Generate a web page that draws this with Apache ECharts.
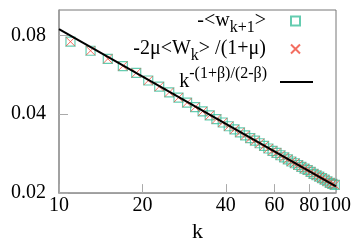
<!DOCTYPE html>
<html>
<head>
<meta charset="utf-8">
<script src="https://cdn.jsdelivr.net/npm/echarts@6/dist/echarts.min.js"></script>
<style>html,body{margin:0;padding:0;background:#fff}#c{width:354px;height:248px}</style>
</head>
<body>
<div id="c"></div>
<script>
// k values (odd k from 11 to 99)
var kValues = [11,13,15,17,19,21,23,25,27,29,31,33,35,37,39,41,43,45,47,49,51,53,55,57,59,61,63,65,67,69,71,73,75,77,79,81,83,85,87,89,91,93,95,97,99];
// -<w_{k+1}>
var wSeries = [0.0757,0.0699,0.0651,0.0611,0.0575,0.0538,0.0510,0.0485,0.0463,0.0443,0.0426,0.0410,0.0396,0.0383,0.0372,0.0360,0.0350,0.0341,0.0332,0.0324,0.0317,0.0310,0.0303,0.0296,0.0290,0.0285,0.0279,0.0274,0.0269,0.0264,0.0260,0.0256,0.0252,0.0248,0.0245,0.0241,0.0237,0.0234,0.0231,0.0228,0.0225,0.0222,0.0219,0.0217,0.0215];
// -2mu<W_k>/(1+mu)
var wkSeries = [0.0757,0.0699,0.0651,0.0611,0.0575,0.0538,0.0510,0.0485,0.0463,0.0443,0.0426,0.0410,0.0396,0.0383,0.0372,0.0360,0.0350,0.0341,0.0332,0.0324,0.0317,0.0310,0.0303,0.0296,0.0290,0.0285,0.0279,0.0274,0.0269,0.0264,0.0260,0.0256,0.0252,0.0248,0.0245,0.0241,0.0237,0.0234,0.0231,0.0228,0.0225,0.0222,0.0219,0.0217,0.0215];
// power-law reference line endpoints
var lineK = [10, 100];
var lineV = [0.0845, 0.02124];
// tick labels
var xTicks = [10, 20, 40, 60, 80, 100];
var yTicks = [0.02, 0.04, 0.08];

var serif = 'Liberation Serif';
function pairs(xs, ys){ return xs.map(function(x,i){ return [x, ys[i]]; }); }

var legendNames = {
  a: '-<w{sub|k+1}>',
  b: '-2μ<W{sub|k}> /(1+μ)',
  c: 'k{sup|-(1+β)/(2-β)}'
};
function mkLegend(item, top, right, w, h, padR){
  return {
    data: [item], right: right, top: top, padding: 0, align: 'right', orient: 'vertical',
    itemWidth: w, itemHeight: h, selectedMode: false,
    formatter: function(n){ return legendNames[n]; },
    textStyle: {
      fontFamily: serif, fontSize: 20, color: '#000', padding: [0, padR, 0, 0],
      rich: {
        sub: {fontFamily: serif, fontSize: 16, color: '#000', padding: [14, 0, 0, 0]},
        sup: {fontFamily: serif, fontSize: 16, color: '#000', padding: [0, 0, 16, 0]}
      }
    }
  };
}

var chart = echarts.init(document.getElementById('c'), null, {renderer: 'canvas'});
chart.setOption({
  animation: false,
  backgroundColor: '#fff',
  grid: {left: 59, right: 18, top: 10, bottom: 44, show: true, borderColor: '#777', borderWidth: 1, backgroundColor: 'transparent'},
  legend: [
    mkLegend({name: 'a', icon: 'rect'}, 11, 53, 9, 9, 20),
    mkLegend({name: 'b'}, 39, 53, 9, 9, 20),
    mkLegend({name: 'c', icon: 'rect', itemStyle: {color: '#000'}}, 66, 41, 33, 2, 8)
  ],
  xAxis: {
    type: 'log', logBase: 10, min: 10, max: 100,
    name: 'k', nameLocation: 'middle', nameGap: 25,
    nameTextStyle: {fontFamily: serif, fontSize: 22, color: '#000'},
    axisLine: {show: true, lineStyle: {color: '#999', width: 1.5}},
    axisTick: {show: true, inside: true, length: 9, lineStyle: {color: '#aaa'}, customValues: xTicks},
    axisLabel: {fontFamily: serif, fontSize: 20, color: '#000', margin: 3, customValues: xTicks,
      formatter: function(v){ return String(Math.round(v)); }},
    splitLine: {show: false}, minorTick: {show: false}
  },
  yAxis: {
    type: 'log', logBase: 10, min: 0.02, max: 0.1,
    axisLine: {show: true, lineStyle: {color: '#999', width: 1.5}},
    axisTick: {show: true, inside: true, length: 9, lineStyle: {color: '#aaa'}, customValues: yTicks},
    axisLabel: {fontFamily: serif, fontSize: 20, color: '#000', margin: 13, customValues: yTicks,
      formatter: function(v){ return (Math.round(v*100)/100).toFixed(2); }},
    splitLine: {show: false}, minorTick: {show: false}
  },
  series: [
    {name: 'a', type: 'scatter', data: pairs(kValues, wSeries), symbol: 'rect', symbolSize: 9, z: 2,
      itemStyle: {color: 'rgba(0,0,0,0)', borderColor: '#3dbf9c', borderWidth: 1.2}},
    {name: 'b', type: 'scatter', data: pairs(kValues, wkSeries), symbol: 'path://M0,0L10,10M10,0L0,10', symbolSize: 9, z: 3,
      itemStyle: {color: 'rgba(0,0,0,0)', borderColor: '#f04a3a', borderWidth: 1}},
    {name: 'c', type: 'line', data: pairs(lineK, lineV), symbol: 'none', showSymbol: false, z: 4,
      lineStyle: {color: '#000', width: 2}, itemStyle: {color: '#000'}}
  ]
});
</script>
</body>
</html>
